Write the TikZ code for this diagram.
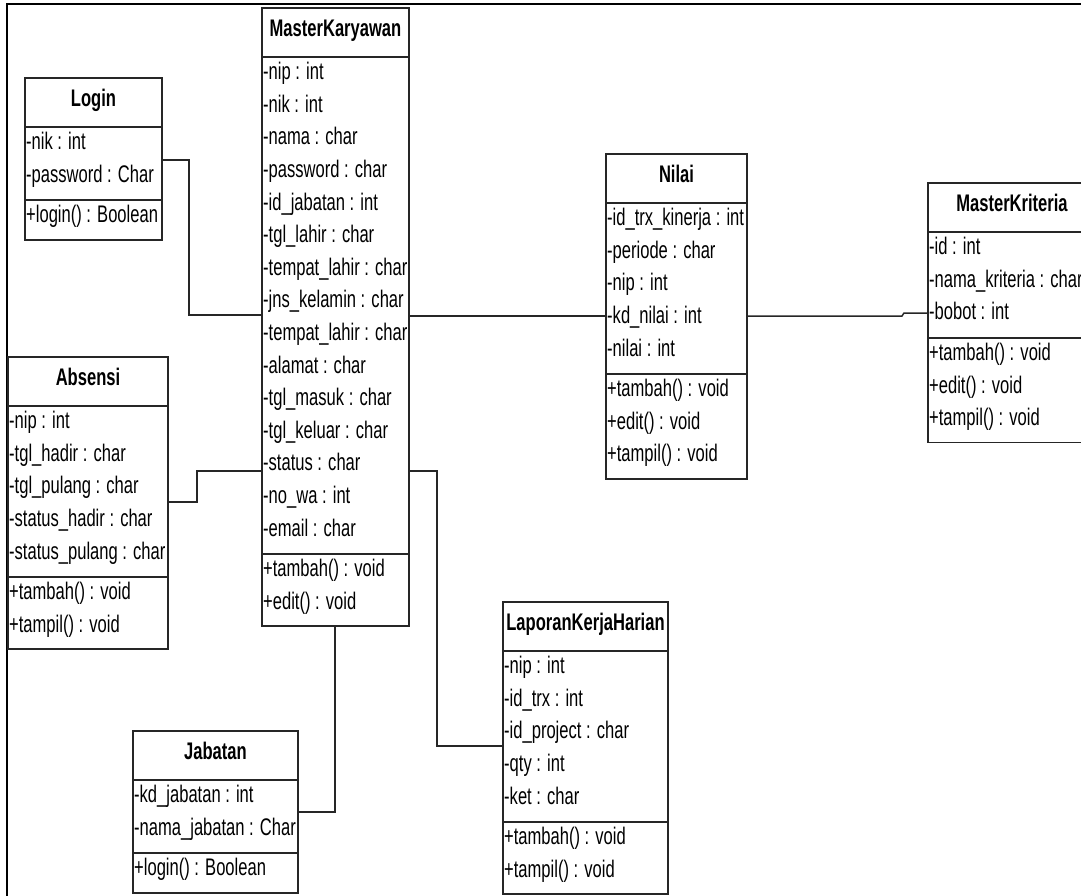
\documentclass[tikz,border=0pt]{standalone}
\usepackage{fontspec}
\setmainfont{Liberation Sans}[FakeStretch=0.69]
\tikzset{
  classbox/.style={draw=black!85, line width=1.6pt, fill=white, inner sep=0pt, outer sep=0pt},
  classtitle/.style={font=\fontsize{24}{26}\selectfont\bfseries, inner sep=0pt, anchor=mid},
  rowtext/.style={font=\fontsize{24}{26}\selectfont, inner sep=0pt, anchor=mid west},
  hdrline/.style={draw=black!85, line width=2.2pt},
  divline/.style={draw=black!85, line width=1.8pt},
  conn/.style={draw=black!85, line width=1.5pt},
  frameline/.style={draw=black, line width=2.5pt}
}
% \umlclass{name}{title}{left}{right}{top}{#attrs}{attrs}{#methods}{methods}
\newcommand\umlclass[9]{%
  \pgfmathsetmacro\hb{#5+49}%
  \pgfmathsetmacro\dv{\hb+#6*32.6+8}%
  \pgfmathsetmacro\bt{\dv+#8*32.6+7}%
  \pgfmathsetmacro\bw{#4-#3}%
  \pgfmathsetmacro\bh{\bt-#5}%
  \node[classbox, anchor=north west, minimum width=\bw pt, minimum height=\bh pt] (#1) at (#3,#5) {};
  \node[classtitle] (#1-title) at ({(#3+#4)/2},{#5+26}) {#2};
  \draw[hdrline] (#3,\hb) -- (#4,\hb);
  \draw[divline] (#3,\dv) -- (#4,\dv);
  \foreach \t [count=\i] in {#7}
    \node[rowtext] (#1-a\i) at ({#3+1},{\hb+20+(\i-1)*32.6}) {\t};
  \foreach \t [count=\i] in {#9}
    \node[rowtext] (#1-m\i) at ({#3+1},{\dv+20+(\i-1)*32.6}) {\t};
}
\begin{document}
\begin{tikzpicture}[x=1pt, y=-1pt]
\useasboundingbox (0,0) rectangle (1081,896);
\clip (0,0) rectangle (1081,896);
\fill[white] (0,0) rectangle (1081,896);

% outer frame (top and left edges)
\draw[frameline] (7,896) -- (7,4) -- (1081,4);

\umlclass{login}{Login}{25}{162}{78}{2}{-nik : int, -password : Char}{1}{+login() : Boolean}

\umlclass{mk}{MasterKaryawan}{262}{409}{8}{15}{-nip : int, -nik : int, -nama : char, -password : char, -id\_jabatan : int, -tgl\_lahir : char, -tempat\_lahir : char, -jns\_kelamin : char, -tempat\_lahir : char, -alamat : char, -tgl\_masuk : char, -tgl\_keluar : char, -status : char, -no\_wa : int, -email : char}{2}{+tambah() : void, +edit() : void}

\umlclass{abs}{Absensi}{8}{168}{357}{5}{-nip : int, -tgl\_hadir : char, -tgl\_pulang : char, -status\_hadir : char, -status\_pulang : char}{2}{+tambah() : void, +tampil() : void}

\umlclass{nilai}{Nilai}{606}{747}{154}{5}{-id\_trx\_kinerja : int, -periode : char, -nip : int, -kd\_nilai : int, -nilai : int}{3}{+tambah() : void, +edit() : void, +tampil() : void}

\umlclass{mkr}{MasterKriteria}{928}{1096}{183}{3}{-id : int, -nama\_kriteria : char, -bobot : int}{3}{+tambah() : void, +edit() : void, +tampil() : void}

\umlclass{jab}{Jabatan}{133}{298}{731}{2}{-kd\_jabatan : int, -nama\_jabatan : Char}{1}{+login() : Boolean}

\umlclass{lkh}{LaporanKerjaHarian}{503}{668}{602}{5}{-nip : int, -id\_trx : int, -id\_project : char, -qty : int, -ket : char}{2}{+tambah() : void, +tampil() : void}

% associations
\draw[conn] (login.east |- 0,160) -| (189,315) -- (mk.west |- 0,315);
\draw[conn] (abs.east |- 0,502) -| (197,471) -- (mk.west |- 0,471);
\draw[conn] (mk.east |- 0,316) -- (nilai.west |- 0,316);
\draw[conn] (nilai.east |- 0,316) -- (902,316) -- (904,313) -- (mkr.west |- 0,313);
\draw[conn] (mk.south -| 335,0) |- (jab.east |- 0,812);
\draw[conn] (mk.east |- 0,471) -| (437,746) -- (lkh.west |- 0,746);
\end{tikzpicture}
\end{document}
